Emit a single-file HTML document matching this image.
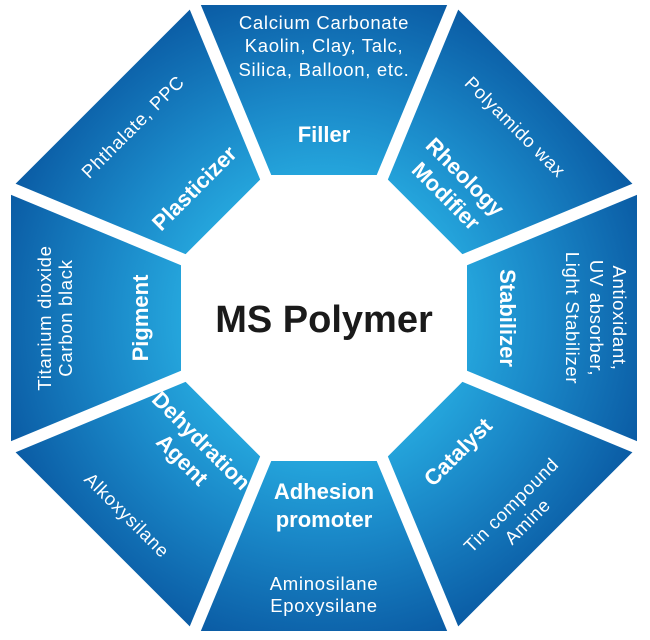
<!DOCTYPE html>
<html><head><meta charset="utf-8"><style>
html,body{margin:0;padding:0;background:#fff;}
svg{display:block;}
.d{font-family:"Liberation Sans",sans-serif;font-size:18.5px;letter-spacing:0.7px;fill:#fff;text-anchor:middle;}
.t{font-family:"Liberation Sans",sans-serif;font-size:22px;font-weight:bold;fill:#fff;text-anchor:middle;}
</style></head><body>
<svg width="650" height="640" viewBox="0 0 650 640" xmlns="http://www.w3.org/2000/svg">
<defs>
<radialGradient id="g" gradientUnits="userSpaceOnUse" cx="0" cy="0" r="400">
<stop offset="0.3" stop-color="#28aee2"/>
<stop offset="0.55" stop-color="#1a88c8"/>
<stop offset="0.85" stop-color="#0a5aa3"/>
</radialGradient>
</defs>
<g transform="translate(324,318)">
<g fill="url(#g)" stroke="url(#g)" stroke-width="14" stroke-linejoin="round">
<polygon points="-123,-306 123,-306 59,-150 -59,-150" transform="rotate(0)"/>
<polygon points="-123,-306 123,-306 59,-150 -59,-150" transform="rotate(45)"/>
<polygon points="-123,-306 123,-306 59,-150 -59,-150" transform="rotate(90)"/>
<polygon points="-123,-306 123,-306 59,-150 -59,-150" transform="rotate(135)"/>
<polygon points="-123,-306 123,-306 59,-150 -59,-150" transform="rotate(180)"/>
<polygon points="-123,-306 123,-306 59,-150 -59,-150" transform="rotate(225)"/>
<polygon points="-123,-306 123,-306 59,-150 -59,-150" transform="rotate(270)"/>
<polygon points="-123,-306 123,-306 59,-150 -59,-150" transform="rotate(315)"/>
</g>
<g stroke="#fff" stroke-width="12">
<line x1="0" y1="0" x2="0" y2="-360" transform="rotate(22.5)"/>
<line x1="0" y1="0" x2="0" y2="-360" transform="rotate(67.5)"/>
<line x1="0" y1="0" x2="0" y2="-360" transform="rotate(112.5)"/>
<line x1="0" y1="0" x2="0" y2="-360" transform="rotate(157.5)"/>
<line x1="0" y1="0" x2="0" y2="-360" transform="rotate(202.5)"/>
<line x1="0" y1="0" x2="0" y2="-360" transform="rotate(247.5)"/>
<line x1="0" y1="0" x2="0" y2="-360" transform="rotate(292.5)"/>
<line x1="0" y1="0" x2="0" y2="-360" transform="rotate(337.5)"/>
</g>
<polygon points="-57,-137 57,-137 137,-57 137,57 57,137 -57,137 -137,57 -137,-57" fill="#fff"/>

<g>
<text class="d" x="0" y="-289">Calcium Carbonate</text>
<text class="d" x="0" y="-266">Kaolin, Clay, Talc,</text>
<text class="d" x="0" y="-242">Silica, Balloon, etc.</text>
<text class="t" x="0" y="-176">Filler</text>
</g>
<g transform="rotate(45)">
<text class="d" x="0" y="-264">Polyamido wax</text>
<text class="t" x="0" y="-192">Rheology</text>
<text class="t" x="0" y="-165">Modifier</text>
</g>
<g transform="rotate(90)">
<text class="d" x="0" y="-289">Antioxidant,</text>
<text class="d" x="0" y="-266">UV absorber,</text>
<text class="d" x="0" y="-242">Light Stabilizer</text>
<text class="t" x="0" y="-176">Stabilizer</text>
</g>
<g transform="rotate(-45)">
<text class="t" x="0" y="197">Catalyst</text>
<text class="d" x="0" y="271">Tin compound</text>
<text class="d" x="0" y="294">Amine</text>
</g>
<g>
<text class="t" x="0" y="181">Adhesion</text>
<text class="t" x="0" y="209">promoter</text>
<text class="d" x="0" y="272">Aminosilane</text>
<text class="d" x="0" y="294">Epoxysilane</text>
</g>
<g transform="rotate(45)">
<text class="t" x="0" y="181">Dehydration</text>
<text class="t" x="0" y="208">Agent</text>
<text class="d" x="0" y="285">Alkoxysilane</text>
</g>
<g transform="rotate(-90)">
<text class="d" x="0" y="-273">Titanium dioxide</text>
<text class="d" x="0" y="-252">Carbon black</text>
<text class="t" x="0" y="-176">Pigment</text>
</g>
<g transform="rotate(-45)">
<text class="d" x="0" y="-264">Phthalate, PPC</text>
<text class="t" x="0" y="-176">Plasticizer</text>
</g>

<text x="0" y="14" font-family="Liberation Sans, sans-serif" font-weight="bold" font-size="38" fill="#1a1a1a" text-anchor="middle">MS Polymer</text>
</g>
</svg>
</body></html>
